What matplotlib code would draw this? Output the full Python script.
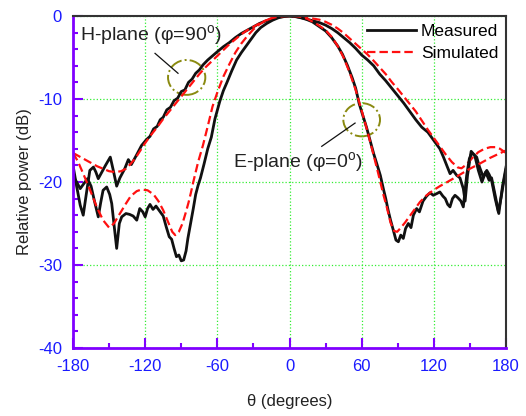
import matplotlib.pyplot as plt
from matplotlib.patches import Ellipse
from matplotlib.ticker import MultipleLocator

plt.rcParams['font.family'] = ['Liberation Sans', 'DejaVu Sans']
plt.rcParams['mathtext.fontset'] = 'custom'
plt.rcParams['mathtext.rm'] = 'Liberation Sans'
plt.rcParams['axes.unicode_minus'] = False

# H-plane, measured
h_meas_deg = [-180, -177, -174, -171.5, -169, -166, -163, -161, -159, -156, -153, -149,
              -146.5, -143.7, -141, -137, -134, -131.5, -127, -123, -119, -116, -113,
              -110, -107.5, -105, -102, -99, -96, -93, -90, -87, -84, -81, -78, -75,
              -72, -68, -64, -60, -55, -50, -45, -40, -35, -30, -25, -20, -15, -10, -5,
              0, 5, 10, 15, 20, 25, 30, 35, 40, 45, 50, 55, 60, 65, 70, 75, 80, 85, 90,
              95, 100, 105, 110, 115, 120, 125, 128, 131, 133.5, 136, 139, 141.7, 144.5,
              146, 148, 151, 154, 157, 160, 163, 166, 168, 171, 174, 177, 180]
h_meas_db = [-18.0, -20.5, -22.8, -24.0, -21.5, -18.6, -18.2, -18.8, -19.6, -18.8, -18.0,
             -17.0, -18.6, -20.5, -19.5, -18.4, -17.3, -17.9, -16.7, -15.6, -14.9, -14.5,
             -13.6, -13.3, -12.5, -12.2, -11.3, -11.0, -10.2, -9.9, -9.1, -8.9, -8.0,
             -7.6, -6.9, -6.5, -5.9, -5.3, -4.8, -4.3, -3.7, -3.2, -2.6, -2.1, -1.7,
             -1.3, -0.9, -0.6, -0.35, -0.15, -0.05, 0.0, -0.05, -0.2, -0.4, -0.6, -0.8,
             -1.1, -1.5, -2.0, -2.6, -3.2, -3.9, -4.7, -5.3, -6.0, -7.0, -7.8, -8.7,
             -9.6, -10.5, -11.5, -12.5, -13.4, -14.0, -15.0, -16.0, -17.0, -18.1, -19.0,
             -18.6, -19.2, -19.5, -20.8, -22.3, -19.2, -16.3, -16.8, -18.6, -20.0, -18.8,
             -19.8, -19.5, -21.6, -23.8, -20.6, -18.2]

# E-plane, measured
e_meas_deg = [-180, -177, -174, -171, -168, -165, -162, -159, -157, -155, -152, -149.5,
              -147.8, -146, -143.7, -141.5, -139.5, -136, -133, -130, -127, -124.5, -122,
              -120, -118, -116, -113.5, -111, -108, -105, -102.5, -100, -98, -96, -94,
              -92, -90, -88, -86, -84.5, -82.5, -80, -78, -76, -74, -71, -68, -65, -62,
              -58, -55, -52, -48, -44, -40, -36, -32, -28, -24, -19, -14, -9, -4, 0, 4,
              9, 14, 19, 24, 30, 35, 40, 44, 48, 52, 55, 58, 61, 64, 67, 70, 73, 75.5,
              78, 80, 82, 84, 86.3, 88.5, 90.5, 92.5, 94.6, 96.5, 98.8, 101, 103, 105.7,
              108, 111, 114, 116.8, 119.5, 122.4, 125, 127.5, 129.5, 131.5, 133.4, 135.5,
              137.6, 140, 142.5, 144.5, 147.3, 149.5, 151.5, 155.6, 158, 161.1, 164, 166,
              168, 171, 173.6, 176, 177.8, 180]
e_meas_db = [-19.3, -20.0, -20.8, -20.2, -19.6, -20.5, -22.4, -24.2, -22.5, -21.0, -20.6,
             -21.5, -22.6, -25.0, -28.0, -25.0, -24.2, -23.8, -23.9, -24.1, -24.6, -23.2,
             -23.6, -24.2, -23.2, -22.7, -23.3, -22.9, -23.5, -24.1, -25.4, -26.6, -26.9,
             -28.0, -29.0, -28.8, -29.5, -29.4, -28.3, -26.8, -25.2, -23.2, -21.5, -20.4,
             -19.5, -17.8, -16.0, -14.6, -12.4, -10.3, -9.0, -8.0, -6.6, -5.3, -4.4,
             -3.6, -2.8, -2.0, -1.4, -0.9, -0.5, -0.2, -0.05, 0.0, -0.05, -0.2, -0.4,
             -0.7, -1.2, -1.8, -2.6, -3.6, -4.6, -5.9, -7.4, -8.7, -10.6, -12.0, -13.4,
             -15.0, -16.6, -18.0, -19.2, -20.8, -22.0, -23.4, -24.6, -25.8, -27.0, -27.2,
             -26.4, -26.8, -25.6, -25.0, -25.5, -24.0, -23.2, -23.6, -22.3, -21.7, -21.3,
             -21.6, -21.4, -21.2, -21.7, -22.0, -22.7, -23.0, -22.0, -21.6, -21.9, -22.3,
             -23.0, -19.2, -17.2, -16.5, -17.0, -18.2, -19.4, -18.6, -19.1, -19.8, -22.0,
             -23.6, -21.8, -20.2, -18.5]

# H-plane, simulated
h_sim_deg = [-180, -175, -170, -165, -160, -155, -150, -145, -140, -136, -132, -128, -124,
             -120, -115, -110, -105, -100, -95, -90, -85, -80, -75, -70, -65, -60, -55,
             -50, -45, -40, -35, -30, -25, -20, -15, -10, -5, 0, 5, 10, 15, 20, 25, 30,
             35, 40, 45, 50, 55, 60, 65, 70, 75, 80, 85, 90, 95, 100, 105, 110, 115, 120,
             125, 130, 135, 140, 143, 147, 152, 157, 162, 167, 171, 175, 180]
h_sim_db = [-16.5, -16.9, -17.3, -17.7, -18.1, -18.4, -18.7, -18.8, -18.7, -18.4, -17.8,
            -17.1, -16.2, -15.3, -14.3, -13.4, -12.4, -11.5, -10.6, -9.7, -8.8, -7.9,
            -7.0, -6.2, -5.5, -4.8, -4.1, -3.4, -2.8, -2.2, -1.7, -1.3, -0.9, -0.55,
            -0.3, -0.12, -0.03, 0.0, -0.03, -0.1, -0.2, -0.32, -0.45, -0.7, -1.05, -1.5,
            -2.05, -2.7, -3.35, -4.0, -4.65, -5.4, -6.2, -7.0, -7.95, -8.8, -9.7, -10.6,
            -11.5, -12.6, -13.7, -14.7, -15.7, -16.7, -17.6, -18.25, -18.35, -17.9,
            -17.1, -16.4, -16.0, -15.8, -15.8, -16.0, -16.5]

# E-plane, simulated
e_sim_deg = [-180, -176, -171.5, -166, -160, -155, -150, -146, -141, -136, -132, -127,
             -123, -118, -113, -109, -105, -101, -97.5, -95, -92, -89, -86.5, -84, -82,
             -80, -78, -76, -72, -68, -64, -60, -55, -50, -45, -40, -35, -30, -25, -20,
             -15, -10, -5, 0, 5, 10, 15, 20, 25, 30, 35, 40, 45, 50, 55, 60, 65, 70, 74,
             78, 81, 84, 87, 89.5, 92, 96, 100, 104, 108.5, 114, 119.5, 125, 130, 136,
             143, 150, 158, 166.7, 174, 180]
e_sim_db = [-16.5, -17.5, -19.0, -20.9, -23.1, -24.6, -25.5, -25.0, -23.8, -22.6, -21.7,
            -21.1, -20.9, -21.0, -21.5, -22.3, -23.4, -24.8, -26.0, -26.4, -26.0, -25.0,
            -23.8, -22.5, -21.3, -20.0, -18.8, -17.6, -15.6, -13.3, -10.9, -9.2, -7.3,
            -5.8, -4.4, -3.3, -2.4, -1.6, -1.0, -0.55, -0.27, -0.1, -0.02, 0.0, -0.02,
            -0.1, -0.35, -0.75, -1.2, -1.7, -2.5, -3.6, -5.0, -6.8, -8.9, -11.4, -14.0,
            -16.8, -19.1, -21.5, -23.1, -24.9, -25.9, -26.0, -25.6, -24.9, -24.1, -23.3,
            -22.4, -21.6, -21.0, -20.5, -20.1, -19.6, -19.0, -18.4, -17.8, -17.1, -16.6,
            -16.2]

x_ticks = [-180, -120, -60, 0, 60, 120, 180]
y_ticks = [-40, -30, -20, -10, 0]

purple = '#8000ff'
blue = '#1a1aff'
red_dash = (0, (3.8, 1.8))


def main():
    fig = plt.figure(figsize=(5.26, 4.16), dpi=100)
    ax = fig.add_axes([0.1388, 0.1635, 0.8232, 0.798])

    ax.plot(h_meas_deg, h_meas_db, color='#111111', lw=2.0, label='Measured')
    ax.plot(h_sim_deg, h_sim_db, color='#ff1010', lw=1.6, ls=red_dash, label='Simulated')
    ax.plot(e_meas_deg, e_meas_db, color='#111111', lw=2.0)
    ax.plot(e_sim_deg, e_sim_db, color='#ff1010', lw=1.6, ls=red_dash)

    ax.set_xlim(-180, 180)
    ax.set_ylim(-40, 0)
    ax.set_xticks(x_ticks)
    ax.set_yticks(y_ticks)
    ax.xaxis.set_minor_locator(MultipleLocator(30))
    ax.yaxis.set_minor_locator(MultipleLocator(2))
    ax.grid(True, which='major', color='#33ee33', ls=':', lw=0.9)

    ax.tick_params(which='both', direction='in', color=purple, width=1.5,
                   top=False, right=False, labelsize=12, labelcolor=blue)
    ax.tick_params(which='major', length=7)
    ax.tick_params(which='minor', length=3.6)
    ax.tick_params(axis='x', which='major', pad=8)
    ax.tick_params(axis='y', which='major', pad=8)
    for side in ['left', 'bottom']:
        ax.spines[side].set_color(purple)
        ax.spines[side].set_linewidth(2)
    for side in ['top', 'right']:
        ax.spines[side].set_color('#333333')
        ax.spines[side].set_linewidth(1.5)

    ax.set_xlabel('θ (degrees)', fontsize=12, color='#222222', labelpad=14)
    ax.set_ylabel('Relative power (dB)', fontsize=12, color='#222222', labelpad=4)

    ax.legend(loc='upper right', frameon=False, fontsize=12.5, handlelength=2.8,
              handletextpad=0.3, borderaxespad=0.05, labelspacing=0.4)

    # annotations
    ax.text(-174, -2.4, 'H-plane (φ=90$^{\\rm o}$)', fontsize=14, color='#222222',
            va='center', ha='left')
    ax.plot([-111.8, -92.7], [-4.5, -6.9], color='#111111', lw=0.9)
    ax.add_patch(Ellipse((-85.5, -7.4), 31, 4.2, fill=False, edgecolor='#8a8a10',
                         ls='-.', lw=1.4))

    ax.text(-47, -17.7, 'E-plane (φ=0$^{\\rm o}$)', fontsize=14, color='#222222',
            va='center', ha='left')
    ax.plot([26.8, 54.5], [-15.7, -12.9], color='#111111', lw=0.9)
    ax.add_patch(Ellipse((60, -12.5), 30.5, 4.0, fill=False, edgecolor='#8a8a10',
                         ls='-.', lw=1.4))

    fig.savefig('out.png', dpi=100)


if __name__ == '__main__':
    main()
